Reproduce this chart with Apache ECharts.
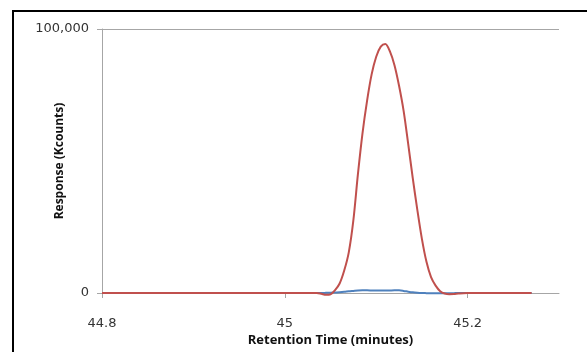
<!DOCTYPE html>
<html>
<head>
<meta charset="utf-8">
<script src="https://cdn.jsdelivr.net/npm/echarts@6/dist/echarts.min.js"></script>
<style>
  html, body { margin: 0; padding: 0; background: #fff; }
  #chart { width: 587px; height: 352px; }
</style>
</head>
<body>
<div id="chart"></div>
<script>
// retention time (minutes), shared by both traces
const times = [
  44.80, 44.90, 45.00, 45.030, 45.035, 45.040, 45.045, 45.050, 45.055, 45.060,
  45.065, 45.070, 45.075, 45.080, 45.085, 45.090, 45.095, 45.100, 45.105, 45.110,
  45.115, 45.120, 45.125, 45.130, 45.135, 45.140, 45.145, 45.150, 45.155, 45.160,
  45.165, 45.170, 45.175, 45.180, 45.185, 45.190, 45.200, 45.220, 45.250, 45.270
]
// response (counts), red trace
const redResponse = [
  0, 0, 0, 0, 0, -300, -700, -500, 1100, 3600,
  8500, 15400, 27500, 45000, 60500, 72800, 82800, 89500, 93300, 94300,
  91500, 86300, 78500, 69000, 56500, 43500, 31500, 20500, 11800, 6000,
  2800, 700, -200, -450, -400, -200, 0, 0, 0, 0
]
// response (counts), blue trace
const blueResponse = [
  0, 0, 0, 0, 0, 0, 50, 100, 200, 300,
  450, 650, 800, 950, 1000, 1000, 950, 900, 900, 900,
  950, 1000, 1000, 800, 500, 250, 100, 0, -50, -100,
  -100, -100, -100, -100, -50, 0, 0, 0, 0, 0
]
const xTicks = [44.8, 45.0, 45.2]
const xMax = 45.3
const yTicks = [0, 100000]

const pairs = (vals) => times.map((t, i) => [t, vals[i]])

const chart = echarts.init(document.getElementById('chart'))
chart.setOption({
  animation: false,
  backgroundColor: '#fff',
  graphic: [
    {
      type: 'rect',
      shape: { x: 13, y: 11, width: 700, height: 500 },
      style: { fill: 'none', stroke: '#000', lineWidth: 2 }
    }
  ],
  grid: { left: 102, top: 29, right: 28, bottom: 57 },
  xAxis: {
    type: 'value',
    min: xTicks[0],
    max: xMax,
    interval: 0.2,
    name: 'Retention Time (minutes)',
    nameLocation: 'middle',
    nameGap: 41,
    nameMoveOverlap: false,
    nameTextStyle: { fontFamily: 'Open Sans', fontWeight: 'bold', fontSize: 13, color: '#111' },
    axisLine: { onZero: false, lineStyle: { color: '#a6a6a6', width: 1 } },
    axisTick: {
      show: true,
      length: 5,
      lineStyle: { color: '#a6a6a6' },
      interval: (i, v) => v === xTicks[2]
    },
    axisLabel: {
      margin: 24,
      showMaxLabel: false,
      fontFamily: 'DejaVu Sans',
      fontSize: 13,
      color: '#333',
      formatter: (v) => String(+v.toFixed(1))
    },
    splitLine: { show: false }
  },
  yAxis: {
    type: 'value',
    min: yTicks[0],
    max: yTicks[1],
    interval: 100000,
    name: 'Response (Kcounts)',
    nameLocation: 'middle',
    nameGap: 36,
    nameMoveOverlap: false,
    nameTextStyle: { fontFamily: 'Open Sans', fontWeight: 'bold', fontSize: 12, color: '#111' },
    axisLine: { show: true, lineStyle: { color: '#a6a6a6', width: 1 } },
    axisTick: { show: true, length: 5, lineStyle: { color: '#a6a6a6' } },
    axisLabel: {
      margin: 13,
      padding: [6, 0, 0, 0],
      fontFamily: 'DejaVu Sans',
      fontSize: 13,
      color: '#333',
      formatter: (v) => v.toString().replace(/\B(?=(\d{3})+(?!\d))/g, ',')
    },
    splitLine: { show: true, lineStyle: { color: '#a6a6a6', width: 1 } }
  },
  series: [
    {
      name: 'blue',
      type: 'line',
      data: pairs(blueResponse),
      showSymbol: false,
      smooth: 0.3,
      clip: false,
      lineStyle: { color: '#4f81bd', width: 2 }
    },
    {
      name: 'red',
      type: 'line',
      data: pairs(redResponse),
      showSymbol: false,
      smooth: 0.3,
      clip: false,
      lineStyle: { color: '#c0504d', width: 2 }
    }
  ]
})
</script>
</body>
</html>
